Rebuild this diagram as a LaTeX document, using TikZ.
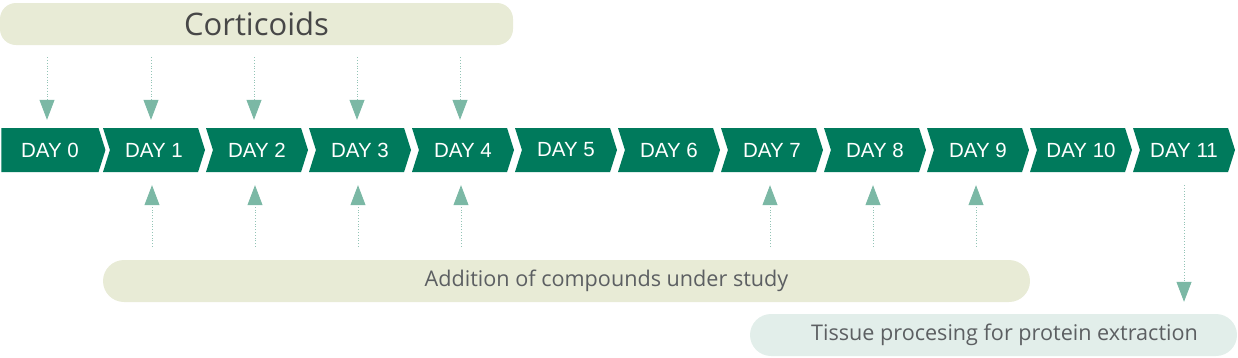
\documentclass[tikz,border=0pt]{standalone}
\usepackage{fontspec}
\setmainfont{Open Sans}
\newfontfamily\dayfont{Liberation Sans}
\usetikzlibrary{arrows.meta,shapes.symbols}

\definecolor{dayGreen}{HTML}{007A5C}
\definecolor{tipTeal}{HTML}{7BB8A5}
\definecolor{dotTeal}{HTML}{93C4B6}
\definecolor{barOlive}{HTML}{E8EBD6}
\definecolor{barMint}{HTML}{E2EEEA}
\definecolor{labelGray}{HTML}{5C5F62}

\tikzset{
  day/.style={signal, signal to=east, signal from=west, signal pointer angle=145,
    fill=dayGreen, text=white, inner sep=0pt, minimum height=44pt, minimum width=102pt,
    font=\dayfont\fontsize{20.5}{24}\selectfont},
  phase/.style={rounded corners=21pt, minimum height=42pt, inner sep=0pt},
  feed/.style={draw=dotTeal, line width=0.8pt, dash pattern=on 0.8pt off 2pt,
    -{Triangle[width=15pt,length=20pt,color=tipTeal]}}
}

\begin{document}
\begin{tikzpicture}[x=1pt, y=-1pt]

    \useasboundingbox (0,0) rectangle (1238,357);

    % --- Timeline of days ---
    \node[day, signal from=nowhere, minimum width=104pt] (d0) at (50, 150) {DAY 0};
    \foreach \d in {1,...,11}
        \node[day] (d\d) at (103*\d+51, 150) {DAY \d};

    % --- Treatment bars ---
    \node[phase, rounded corners=16pt, fill=barOlive, minimum width=513pt,
        font=\fontsize{31}{36}\selectfont, text=black!72] (cort) at (256.5, 24) {Corticoids};
    \node[phase, fill=barOlive, minimum width=927pt,
        label={[xshift=40pt, text=labelGray, font=\fontsize{21.6}{26}\selectfont]center:Addition of compounds under study}]
        (addbar) at (566.5, 281) {};
    \node[phase, fill=barMint, minimum width=487pt,
        label={[xshift=11pt, text=labelGray, font=\fontsize{21.6}{26}\selectfont]center:Tissue procesing for protein extraction}]
        (tissue) at (993.5, 335) {};

    % --- Corticoids given on days 0-4 ---
    \foreach \d in {0,...,4}
        \draw[feed, shorten <=12pt, shorten >=8pt]
            ([xshift=-3pt]cort.south -| d\d.north) -- ([xshift=-3pt]d\d.north);

    % --- Compounds added ---
    \foreach \d in {1,2,3,4,7,8,9}
        \draw[feed, shorten <=13pt, shorten >=13pt]
            ([xshift=-2pt]addbar.north -| d\d.south) -- ([xshift=-2pt]d\d.south);

    % --- Harvest on day 11 ---
    \draw[feed, shorten <=13pt, shorten >=12pt] (d11.south) -- (tissue.north -| d11.south);

\end{tikzpicture}
\end{document}
